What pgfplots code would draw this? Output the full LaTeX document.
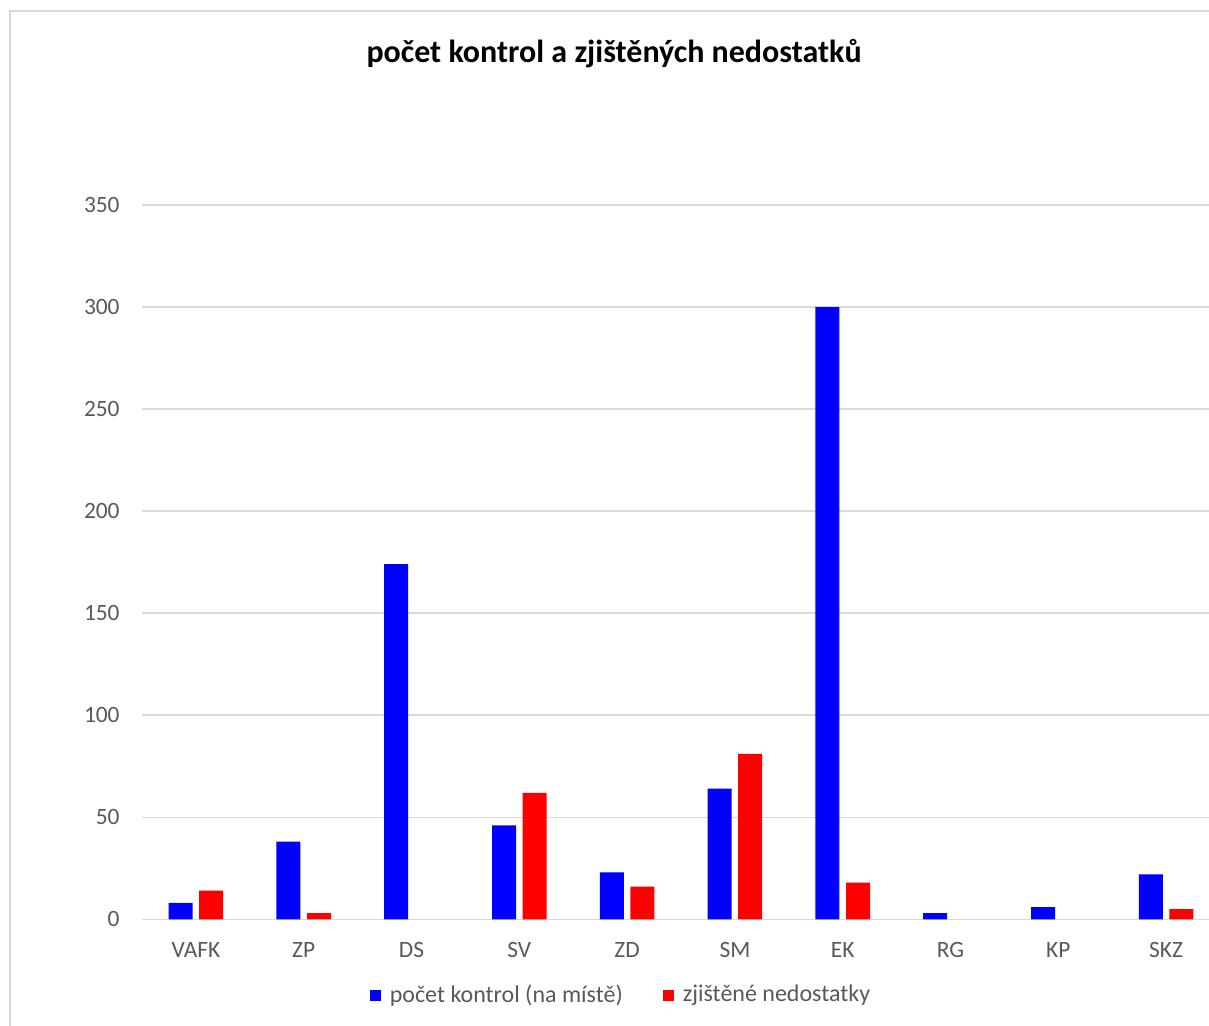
\documentclass[border=0pt]{standalone}
\usepackage{pgfplots}
\pgfplotsset{compat=1.18}
\usepackage{fontspec}
\setmainfont{Carlito}
\definecolor{txtgray}{HTML}{595959}
\definecolor{gridgray}{HTML}{D9D9D9}
\definecolor{barblue}{HTML}{0000FF}
\definecolor{barred}{HTML}{FF0000}
\begin{document}
\begin{tikzpicture}[x=1pt,y=1pt]
\useasboundingbox (0,0) rectangle (604.5,513);
\draw[gridgray, line width=1pt] (5,0) -- (5,507.25) -- (604.5,507.25);
\begin{axis}[
  at={(71pt,53.35pt)}, anchor=south west,
  scale only axis, width=533.5pt, height=357.15pt,
  xmin=-0.5, xmax=9.398, ymin=0, ymax=350,
  ybar=3.3pt, bar width=12pt,
  xtick={0,1,2,3,4,5,6,7,8,9},
  xticklabels={VAFK,ZP,DS,SV,ZD,SM,EK,RG,KP,SKZ},
  ytick={0,50,100,150,200,250,300,350},
  ymajorgrids, grid style={gridgray, line width=0.75pt},
  axis line style={draw=none}, major tick length=0pt,
  tick label style={font=\fontsize{11.7}{13}\selectfont, text=txtgray},
  /pgf/number format/assume math mode=true,
  yticklabel style={anchor=east, inner sep=0pt, xshift=-11pt},
  xticklabel style={anchor=north, inner sep=0pt, yshift=-11.5pt},
  title={počet kontrol a zjištěných nedostatků},
  title style={at={(0.4424,1.1946)}, anchor=center, font=\fontsize{16}{18}\selectfont\bfseries, text=black},
  legend columns=2,
  legend style={at={(0.448,-0.106)}, anchor=center, draw=none,
    font=\fontsize{12}{14}\selectfont, text=txtgray,
    /tikz/every odd column/.append style={column sep=4.5pt},
    /tikz/every even column/.append style={column sep=20pt},
    nodes={inner sep=0pt}},
  legend image code/.code={\fill[#1] (0pt,-2.75pt) rectangle (5.5pt,2.75pt);},
]
\addplot[fill=barblue, draw=none] coordinates {(0,8) (1,38) (2,174) (3,46) (4,23) (5,64) (6,300) (7,3) (8,6) (9,22)};
\addplot[fill=barred, draw=none] coordinates {(0,14) (1,3) (3,62) (4,16) (5,81) (6,18) (9,5)};
\legend{počet kontrol (na místě), zjištěné nedostatky}
\end{axis}
\end{tikzpicture}
\end{document}
